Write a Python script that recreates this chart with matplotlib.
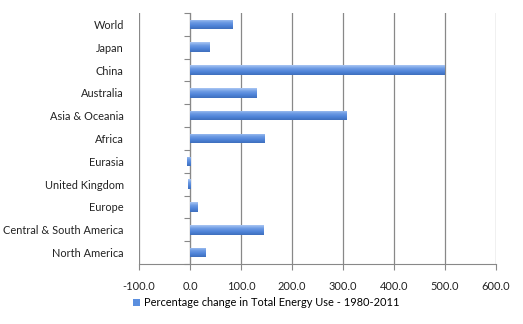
import matplotlib.pyplot as plt
import numpy as np
from matplotlib.colors import LinearSegmentedColormap

regions = ['World', 'Japan', 'China', 'Australia', 'Asia & Oceania', 'Africa',
           'Eurasia', 'United Kingdom', 'Europe', 'Central & South America',
           'North America']
change = [84, 39, 500, 131, 307, 147, -6, -4, 15, 145, 31]
series_name = 'Percentage change in Total Energy Use - 1980-2011'
xticks = [-100, 0, 100, 200, 300, 400, 500, 600]

plt.rcParams['font.family'] = ['Lato', 'DejaVu Sans']
fs = 7.9

fig = plt.figure(figsize=(5.23, 3.24), dpi=100)
ax = fig.add_axes([0.2658, 0.1852, 0.6826, 0.7747])

y = np.arange(len(regions))
bars = ax.barh(y, change, height=0.42, color='#5b8fdf', label=series_name, zorder=3)

# gradient fill, light on top, darker at the bottom
grad = LinearSegmentedColormap.from_list('bar', ['#a9c6f3', '#6d9be4', '#4f84d8', '#3f6fbd'])
g = np.linspace(0, 1, 50).reshape(-1, 1)
for b in bars:
    x0, y0, w, h = b.get_x(), b.get_y(), b.get_width(), b.get_height()
    im = ax.imshow(g, cmap=grad, aspect='auto', zorder=4,
                   extent=[min(x0, x0 + w), max(x0, x0 + w), y0 + h, y0])
    im.set_clip_path(b)

ax.set_xlim(-100, 600)
ax.set_ylim(len(regions) - 0.5, -0.5)
ax.set_xticks(xticks)
ax.set_xticklabels(['{:.1f}'.format(v) for v in xticks])
ax.set_yticks(y)
ax.set_yticklabels(regions)
ax.tick_params(axis='y', length=0, pad=11, labelsize=fs, colors='#222222')
ax.tick_params(axis='x', length=4, color='#888888', pad=8, labelsize=fs, labelcolor='#222222')
ax.grid(axis='x', color='#888888', linewidth=0.9, zorder=1)
for s in ['top', 'right', 'left']:
    ax.spines[s].set_visible(False)
ax.spines['bottom'].set_color('#888888')

# category axis crossing at zero
sec = ax.secondary_yaxis(100 / 700)
sec.set_yticks(np.arange(len(regions) + 1) - 0.5)
sec.set_yticklabels([])
sec.tick_params(length=4, color='#888888')
sec.spines['left'].set_color('#888888')

fig.legend(handles=[bars], labels=[series_name], loc='center', bbox_to_anchor=(0.51, 0.065),
           frameon=False, fontsize=fs, handlelength=0.6, handleheight=0.6, handletextpad=0.4)

fig.savefig('out.png', dpi=100)
